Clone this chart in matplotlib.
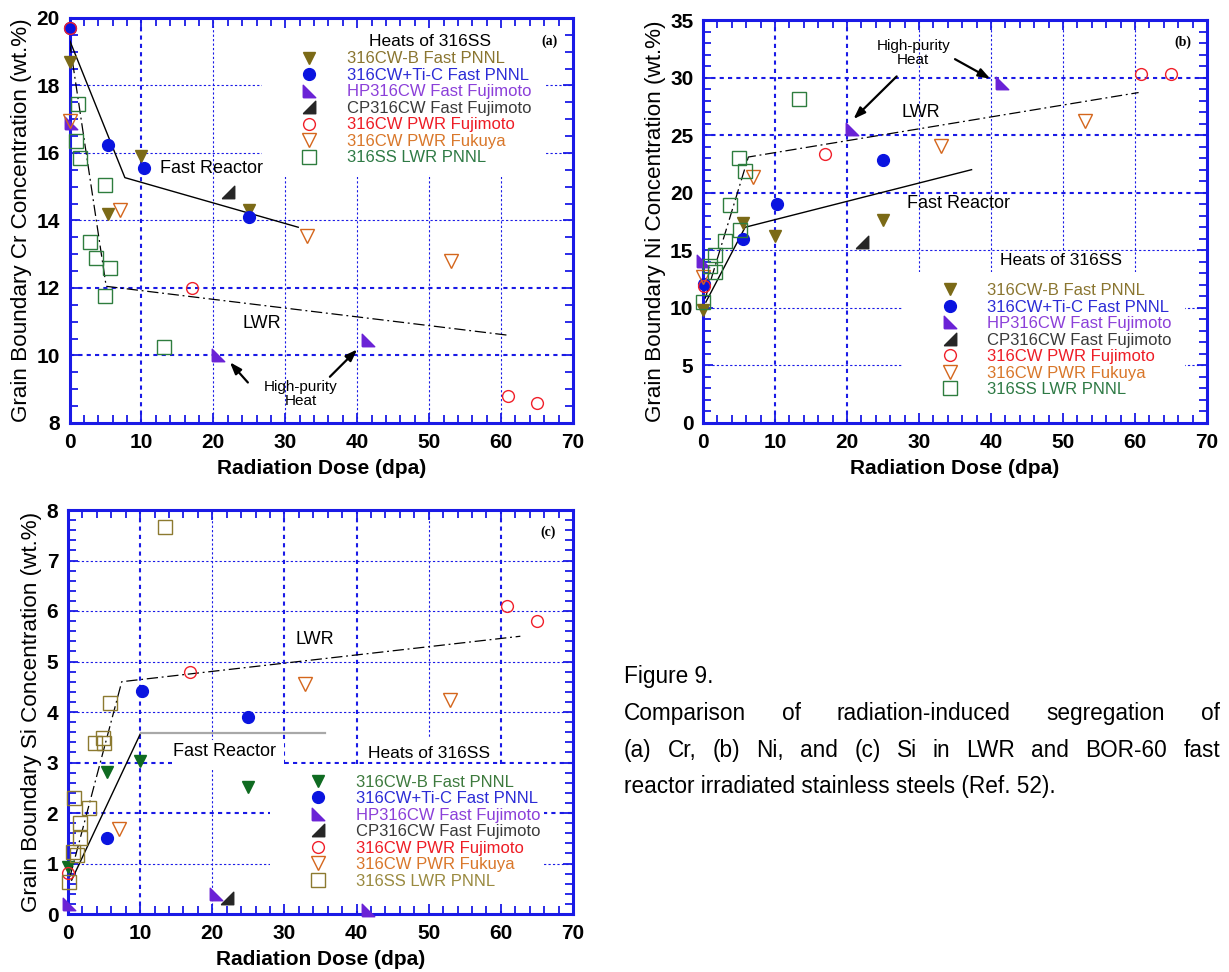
import matplotlib
matplotlib.use('Agg')
import matplotlib.pyplot as plt
import matplotlib.transforms as mtransforms
from matplotlib.path import Path
from matplotlib.patches import Rectangle
from matplotlib.ticker import MultipleLocator

plt.rcParams['font.family'] = ['Liberation Sans', 'DejaVu Sans']

# ---------------- data (dose in dpa, concentration in wt.%) ----------------
labels = ['316CW-B Fast PNNL', '316CW+Ti-C Fast PNNL', 'HP316CW Fast Fujimoto',
          'CP316CW Fast Fujimoto', '316CW PWR Fujimoto', '316CW PWR Fukuya',
          '316SS LWR PNNL']

# (a) Cr
cr_cwb_x = [0, 5.3, 10, 25]
cr_cwb_y = [18.7, 14.2, 15.9, 14.3]
cr_tic_x = [0, 5.3, 10.3, 25]
cr_tic_y = [19.7, 16.25, 15.55, 14.1]
cr_hp_x = [0.2, 20.6, 41.5]
cr_hp_y = [16.9, 10.0, 10.45]
cr_cp_x = [22.0]
cr_cp_y = [14.85]
cr_pwrf_x = [0, 17, 61, 65]
cr_pwrf_y = [19.7, 12.0, 8.8, 8.6]
cr_fuk_x = [0, 7.0, 33, 53]
cr_fuk_y = [16.95, 14.3, 13.55, 12.8]
cr_lwr_x = [1.2, 0.9, 1.5, 5.0, 2.9, 3.7, 5.6, 4.9, 13.2]
cr_lwr_y = [17.45, 16.35, 15.85, 15.05, 13.35, 12.9, 12.6, 11.75, 10.25]
cr_fast_fit_x = [0, 7.7, 31.8]
cr_fast_fit_y = [19.35, 15.27, 13.8]
cr_lwr_fit_x = [0, 5.1, 61]
cr_lwr_fit_y = [19.3, 12.05, 10.6]

# (b) Ni
ni_cwb_x = [0, 5.5, 10, 25]
ni_cwb_y = [9.8, 17.4, 16.2, 17.6]
ni_tic_x = [0.1, 5.5, 10.3, 25]
ni_tic_y = [12.1, 16.0, 19.0, 22.8]
ni_hp_x = [0, 20.7, 41.5]
ni_hp_y = [14.1, 25.5, 29.5]
ni_cp_x = [22.1]
ni_cp_y = [15.7]
ni_pwrf_x = [0.1, 17, 60.9, 65]
ni_pwrf_y = [11.9, 23.4, 30.3, 30.35]
ni_fuk_x = [0, 7.0, 33, 53]
ni_fuk_y = [12.7, 21.4, 24.1, 26.25]
ni_lwr_x = [0, 1.0, 1.7, 1.7, 3.0, 3.75, 5.1, 5.8, 5.0, 13.4]
ni_lwr_y = [10.5, 13.6, 13.1, 14.6, 15.8, 18.9, 16.75, 21.9, 23.0, 28.1]
ni_fast_fit_x = [0.4, 5.85, 37.3]
ni_fast_fit_y = [10.5, 17.0, 22.0]
ni_lwr_fit_x = [0.3, 6.3, 60.5]
ni_lwr_fit_y = [10.8, 23.1, 28.7]

# (c) Si
si_cwb_x = [0, 5.4, 10, 25]
si_cwb_y = [0.94, 2.82, 3.02, 2.52]
si_tic_x = [5.4, 10.3, 25]
si_tic_y = [1.5, 4.41, 3.9]
si_hp_x = [0.15, 20.5, 41.6]
si_hp_y = [0.2, 0.4, 0.08]
si_cp_x = [22.0]
si_cp_y = [0.32]
si_pwrf_x = [0, 16.9, 60.9, 65]
si_pwrf_y = [0.81, 4.79, 6.1, 5.8]
si_fuk_x = [7.0, 32.9, 53]
si_fuk_y = [1.68, 4.56, 4.24]
si_lwr_x = [0.1, 0.7, 1.2, 1.6, 1.6, 0.9, 2.9, 3.7, 5.0, 4.9, 5.8, 13.4]
si_lwr_y = [0.64, 1.23, 1.17, 1.5, 1.8, 2.3, 2.1, 3.38, 3.38, 3.49, 4.18, 7.67]
si_fast_fit_x = [0.5, 10.1]
si_fast_fit_y = [0.67, 3.59]
si_fast_flat_x = [10.1, 35.6]
si_fast_flat_y = [3.59, 3.59]
si_lwr_fit_x = [0.28, 7.45, 62.7]
si_lwr_fit_y = [0.74, 4.6, 5.5]

# ---------------- styles ----------------
BLUE = '#1a1ae6'
HP_MARK = Path([(-1, -1), (1, -1), (-1, 1), (-1, -1)])
CP_MARK = Path([(-1, -1), (1, -1), (1, 1), (-1, -1)])
LWR_LS = (0, (9, 3, 1.5, 3))


def series_styles(panel_c=False):
    olive, green = '#7b6a17', '#2e7d3e'
    return [
        dict(marker='v', color='#0f6b21' if panel_c else olive, ms=9, fill=True,
             tc='#3d7a3d' if panel_c else '#8a7530'),
        dict(marker='o', color='#0a14e0', ms=8.5, fill=True, tc='#2b2bd6'),
        dict(marker=HP_MARK, color='#6a22d6', ms=9, fill=True, tc='#8b3fd9'),
        dict(marker=CP_MARK, color='#262626', ms=9, fill=True, tc='#3a3a3a'),
        dict(marker='o', color='#f0202a', ms=8.5, fill=False, tc='#ee1c25'),
        dict(marker='v', color='#d4661c', ms=9.5, fill=False, tc='#d9772a'),
        dict(marker='s', color='#8c7a30' if panel_c else green, ms=10, fill=False,
             tc='#9a8a40' if panel_c else '#2e7a45'),
    ]


def setup_axes(ax, ylim, ymaj, ymin, ylabel):
    ax.set_xlim(0, 70)
    ax.set_ylim(*ylim)
    ax.xaxis.set_major_locator(MultipleLocator(10))
    ax.xaxis.set_minor_locator(MultipleLocator(2))
    ax.yaxis.set_major_locator(MultipleLocator(ymaj))
    ax.yaxis.set_minor_locator(MultipleLocator(ymin))
    ax.tick_params(which='both', direction='in', top=True, right=True, color=BLUE,
                   width=1.3, labelsize=15)
    ax.tick_params(which='major', length=7, pad=7)
    ax.tick_params(which='minor', length=6)
    for lab in ax.get_xticklabels() + ax.get_yticklabels():
        lab.set_fontweight('bold')
    for sp in ax.spines.values():
        sp.set_color(BLUE)
        sp.set_linewidth(2.2)
    ax.set_xlabel('Radiation Dose (dpa)', fontsize=15, fontweight='bold', labelpad=5)
    ax.set_ylabel(ylabel, fontsize=16.2, labelpad=3)


def grid(ax, xs_thin, xs_thick, ys_thin, ys_thick):
    for x in xs_thin:
        ax.axvline(x, color=BLUE, lw=0.8, ls=(0, (2, 2)), zorder=1)
    for x in xs_thick:
        ax.axvline(x, color=BLUE, lw=1.5, ls=(0, (2, 2)), zorder=1)
    for y in ys_thin:
        ax.axhline(y, color=BLUE, lw=0.8, ls=(0, (2, 2)), zorder=1)
    for y in ys_thick:
        ax.axhline(y, color=BLUE, lw=1.5, ls=(0, (2, 2)), zorder=1)


def blank(ax, x0, y0, x1, y1):
    ax.add_patch(Rectangle((x0, y0), x1 - x0, y1 - y0, facecolor='white',
                           edgecolor='none', zorder=1.5))


def draw_points(ax, xs, ys, styles):
    handles = []
    for x, y, st in zip(xs, ys, styles):
        h, = ax.plot(x, y, ls='none', marker=st['marker'], ms=st['ms'],
                     color=st['color'], mec=st['color'],
                     mfc=st['color'] if st['fill'] else 'none',
                     mew=1.0, zorder=4, clip_on=False)
        handles.append(h)
    return handles


def legend(ax, handles, styles, hx, hy, tx, ty):
    ax.text(tx, ty, 'Heats of 316SS', fontsize=12.5, ha='center', va='center', zorder=6)
    off = mtransforms.ScaledTranslation(-10 / 100, 7 / 100, ax.figure.dpi_scale_trans)
    leg = ax.legend(handles, labels, loc='upper left', bbox_to_anchor=(hx, hy),
                    bbox_transform=ax.transData + off, frameon=False, borderpad=0,
                    borderaxespad=0, fontsize=12, handlelength=1.2,
                    handletextpad=1.65, labelspacing=0.09, numpoints=1)
    for t, st in zip(leg.get_texts(), styles):
        t.set_color(st['tc'])
    leg.set_zorder(6)


def arrow(ax, tail, head):
    ax.annotate('', xy=head, xytext=tail,
                arrowprops=dict(arrowstyle='-|>,head_length=0.7,head_width=0.25',
                                color='black', lw=1.6, shrinkA=0, shrinkB=0),
                zorder=6)


fig = plt.figure(figsize=(12.29, 9.72), dpi=100)

# ---------------- (a) Cr ----------------
ax = fig.add_axes([69.5 / 1229, 1 - 423 / 972, 503.5 / 1229, 405 / 972])
setup_axes(ax, (8, 20), 2, 0.5, 'Grain Boundary Cr Concentration (wt.%)')
grid(ax, [20, 30, 40, 50, 60], [10], [18, 16, 14], [12, 10])
blank(ax, 26.8, 15.3, 66.0, 19.95)
st = series_styles()
ax.plot(cr_fast_fit_x, cr_fast_fit_y, color='black', lw=1.0, zorder=3)
ax.plot(cr_lwr_fit_x, cr_lwr_fit_y, color='black', lw=0.9, ls=LWR_LS, zorder=3)
h = draw_points(ax, [cr_cwb_x, cr_tic_x, cr_hp_x, cr_cp_x, cr_pwrf_x, cr_fuk_x, cr_lwr_x],
                [cr_cwb_y, cr_tic_y, cr_hp_y, cr_cp_y, cr_pwrf_y, cr_fuk_y, cr_lwr_y], st)
legend(ax, h, st, 33.3, 18.8, 50.1, 19.3)
ax.text(12.6, 15.55, 'Fast Reactor', fontsize=13, va='center', zorder=5)
ax.text(24.1, 10.96, 'LWR', fontsize=13, va='center', zorder=5)
ax.text(32.1, 8.85, 'High-purity\nHeat', fontsize=11, ha='center', va='center',
        linespacing=1.0, zorder=5)
arrow(ax, (24.8, 9.2), (22.3, 9.8))
arrow(ax, (36.2, 9.37), (40.0, 10.18))
ax.text(66.7, 19.3, '(a)', fontsize=10, fontweight='bold', family='Liberation Serif',
        ha='center', va='center')

# ---------------- (b) Ni ----------------
ax = fig.add_axes([703 / 1229, 1 - 423 / 972, 504 / 1229, 403 / 972])
setup_axes(ax, (0, 35), 5, 1, 'Grain Boundary Ni Concentration (wt.%)')
grid(ax, [30, 40, 50, 60], [10, 20], [15, 10, 5], [30, 25, 20])
blank(ax, 27.6, 0.2, 67.0, 13.1)
blank(ax, 40.5, 13.1, 59.2, 14.95)
ax.plot(ni_fast_fit_x, ni_fast_fit_y, color='black', lw=1.0, zorder=3)
ax.plot(ni_lwr_fit_x, ni_lwr_fit_y, color='black', lw=0.9, ls=LWR_LS, zorder=3)
h = draw_points(ax, [ni_cwb_x, ni_tic_x, ni_hp_x, ni_cp_x, ni_pwrf_x, ni_fuk_x, ni_lwr_x],
                [ni_cwb_y, ni_tic_y, ni_hp_y, ni_cp_y, ni_pwrf_y, ni_fuk_y, ni_lwr_y], st)
legend(ax, h, st, 34.3, 11.54, 49.7, 14.15)
ax.text(28.3, 19.1, 'Fast Reactor', fontsize=13, va='center', zorder=5)
ax.text(27.6, 27.0, 'LWR', fontsize=13, va='center', zorder=5)
ax.text(29.2, 32.1, 'High-purity\nHeat', fontsize=11, ha='center', va='center',
        linespacing=1.0, zorder=5)
arrow(ax, (26.9, 30.1), (20.9, 26.4))
arrow(ax, (35.0, 31.6), (39.9, 29.9))
ax.text(66.7, 33.1, '(b)', fontsize=10, fontweight='bold', family='Liberation Serif',
        ha='center', va='center')

# ---------------- (c) Si ----------------
ax = fig.add_axes([68 / 1229, 1 - 914 / 972, 505 / 1229, 404 / 972])
setup_axes(ax, (0, 8), 1, 0.2, 'Grain Boundary Si Concentration (wt.%)')
grid(ax, [20, 50], [10, 30, 40, 60], [7, 6, 5, 4, 1], [3, 2])
blank(ax, 28.0, 0.05, 66.0, 2.98)
blank(ax, 40.5, 3.03, 59.0, 3.5)
blank(ax, 14.4, 2.9, 29.9, 3.45)
stc = series_styles(panel_c=True)
ax.plot(si_fast_fit_x, si_fast_fit_y, color='black', lw=1.0, zorder=3)
ax.plot(si_fast_flat_x, si_fast_flat_y, color='#a8a8a8', lw=1.6, zorder=3)
ax.plot(si_lwr_fit_x, si_lwr_fit_y, color='black', lw=0.9, ls=LWR_LS, zorder=3)
h = draw_points(ax, [si_cwb_x, si_tic_x, si_hp_x, si_cp_x, si_pwrf_x, si_fuk_x, si_lwr_x],
                [si_cwb_y, si_tic_y, si_hp_y, si_cp_y, si_pwrf_y, si_fuk_y, si_lwr_y], stc)
legend(ax, h, stc, 34.7, 2.62, 50.1, 3.17)
ax.text(14.6, 3.21, 'Fast Reactor', fontsize=13, va='center', zorder=5)
ax.text(31.5, 5.44, 'LWR', fontsize=13, va='center', zorder=5)
ax.text(66.6, 7.55, '(c)', fontsize=10, fontweight='bold', family='Liberation Serif',
        ha='center', va='center')

# ---------------- caption ----------------
caption = ['Figure 9.',
           'Comparison of radiation-induced segregation of',
           '(a) Cr, (b) Ni, and (c) Si in LWR and BOR-60 fast',
           'reactor irradiated stainless steels (Ref. 52).']
justified = [False, True, True, False]
baselines = [683, 720, 757, 793]
x_left, x_right = 624, 1220
renderer = fig.canvas.get_renderer()
for line, just, yb in zip(caption, justified, baselines):
    yf = 1 - yb / 972
    if not just:
        fig.text(x_left / 1229, yf, line, fontsize=16.3, va='baseline')
        continue
    words = line.split(' ')
    ts = [fig.text(0, yf, w, fontsize=16.3, va='baseline') for w in words]
    widths = [t.get_window_extent(renderer).width for t in ts]
    gap = (x_right - x_left - sum(widths)) / (len(words) - 1)
    x = x_left
    for t, w in zip(ts, widths):
        t.set_x(x / 1229)
        x += w + gap

fig.savefig('out.png', dpi=100)
